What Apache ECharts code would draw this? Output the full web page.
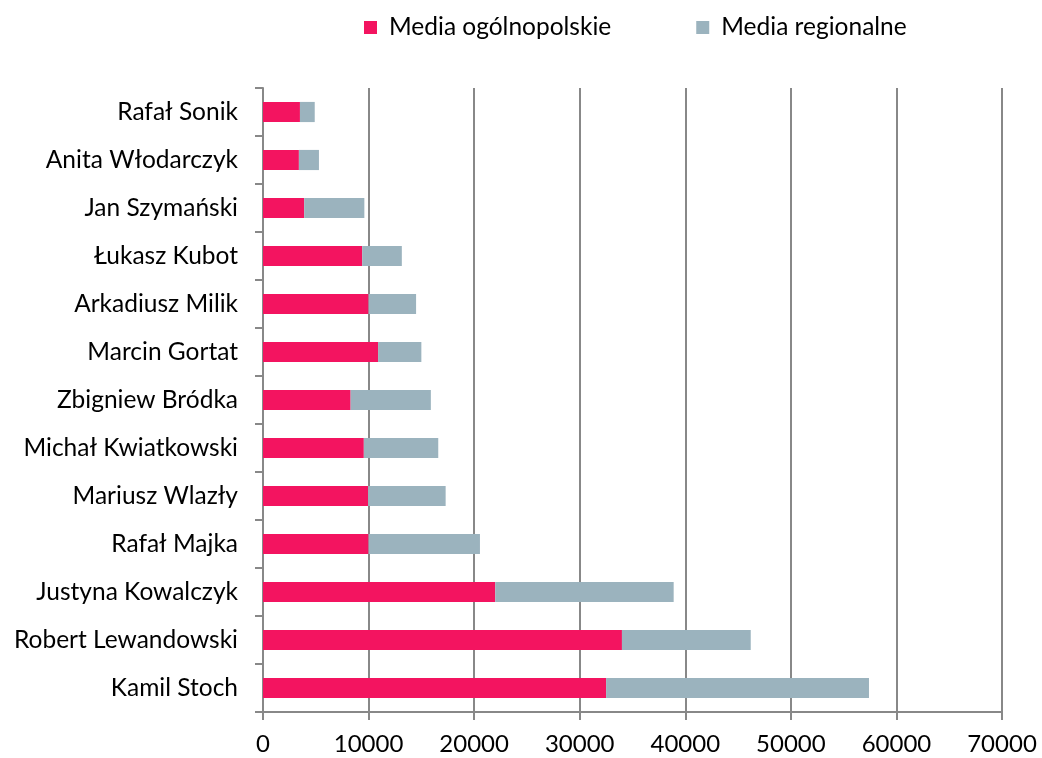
<!DOCTYPE html>
<html><head><meta charset="utf-8">
<script src="https://cdn.jsdelivr.net/npm/echarts@6/dist/echarts.min.js"></script>
<style>html,body{margin:0;padding:0;background:#fff}#c{width:1042px;height:758px}</style>
</head><body><div id="c"></div>
<script>
const categories = ["Kamil Stoch","Robert Lewandowski","Justyna Kowalczyk","Rafał Majka","Mariusz Wlazły","Michał Kwiatkowski","Zbigniew Bródka","Marcin Gortat","Arkadiusz Milik","Łukasz Kubot","Jan Szymański","Anita Włodarczyk","Rafał Sonik"];
const ogolnopolskie = [32500,34000,22000,10000,9950,9550,8300,10900,10000,9400,3900,3400,3500];
const regionalne   = [24900,12200,16900,10550,7350,7050,7600,4100,4500,3750,5700,1900,1400];
const seriesNames = ["Media ogólnopolskie","Media regionalne"];
const FONT = "Lato";
const chart = echarts.init(document.getElementById('c'));
chart.setOption({
  animation:false,
  textStyle:{fontFamily:FONT},
  legend:{top:10,left:359,itemWidth:13,itemHeight:13,itemGap:85,icon:'rect',
    textStyle:{fontSize:24.5,color:'#000',fontFamily:FONT,padding:[0,0,0,7]}},
  grid:{left:263,right:40,top:88,bottom:46,containLabel:false},
  xAxis:{type:'value',min:0,max:70000,interval:10000,
    axisLine:{show:true,lineStyle:{color:'#888',width:2}},
    axisTick:{show:true,length:8,lineStyle:{color:'#888',width:2}},
    splitLine:{show:true,lineStyle:{color:'#888',width:2}},
    axisLabel:{fontSize:24,color:'#000',margin:20,fontFamily:FONT,formatter:v=>String(v)}},
  yAxis:{type:'category',data:categories,
    axisLine:{show:true,lineStyle:{color:'#888',width:2}},
    axisTick:{show:true,length:8,lineStyle:{color:'#888',width:2}},
    axisLabel:{fontSize:24.5,color:'#000',margin:25,fontFamily:FONT}},
  series:[
    {name:seriesNames[0],type:'bar',stack:'s',data:ogolnopolskie,barWidth:'42%',
      itemStyle:{color:'#F31460'}},
    {name:seriesNames[1],type:'bar',stack:'s',data:regionalne,barWidth:'42%',
      itemStyle:{color:'#9BB3BE'}}
  ]
});
</script></body></html>
